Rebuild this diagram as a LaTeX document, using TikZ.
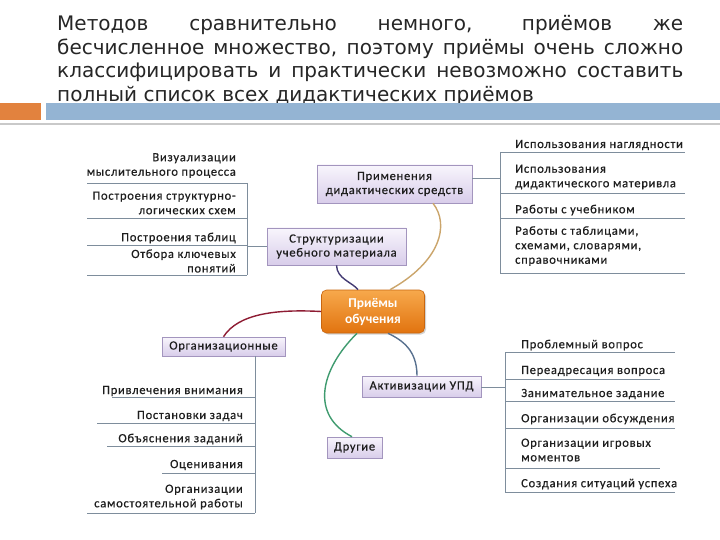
\documentclass[tikz,border=0pt]{standalone}
\usepackage{fontspec}
\setmainfont{DejaVu Sans}
\newfontfamily\cf{Carlito}[LetterSpace=6,FakeBold=0.5]
\newfontfamily\cfc{Carlito}
\usetikzlibrary{shadows}
\tolerance=10000\relax
\hbadness=10000\relax
\definecolor{hdrtext}{HTML}{262626}
\definecolor{barorange}{HTML}{E2823E}
\definecolor{barblue}{HTML}{94B4D3}
\definecolor{bargray}{HTML}{C9C9C9}
\definecolor{txt}{HTML}{1E1E1E}
\definecolor{lline}{HTML}{7E8D9C}
\definecolor{boxtop}{HTML}{F8F5FC}
\definecolor{boxbot}{HTML}{D8CDEA}
\definecolor{boxborder}{HTML}{A395BE}
\definecolor{ctop}{HTML}{F7A94C}
\definecolor{cbot}{HTML}{E1730F}
\definecolor{cborder}{HTML}{C9660F}
\definecolor{cnavy}{HTML}{433B73}
\definecolor{ctan}{HTML}{CBA56B}
\definecolor{cred}{HTML}{8E1C33}
\definecolor{csteel}{HTML}{58718F}
\definecolor{cgreen}{HTML}{3F9B6F}
\tikzset{
  itemtxt/.style={font=\cf\fontsize{12.5}{14.5}\selectfont, text=txt, inner sep=0},
  litem/.style={itemtxt, anchor=east, align=right},
  ritem/.style={itemtxt, anchor=west, align=left},
  listline/.style={draw=lline, line width=0.8pt},
  lbox/.style={draw=boxborder, line width=0.6pt, top color=boxtop, bottom color=boxbot,
    font=\cf\fontsize{12.5}{14}\selectfont, text=txt, align=center, inner sep=0,
    drop shadow={shadow xshift=1.2pt, shadow yshift=-1.2pt, opacity=0.3, fill=gray}},
  cbox/.style={draw=cborder, line width=0.6pt, rounded corners=5pt, top color=ctop, bottom color=cbot,
    font=\cfc\bfseries\fontsize{13.5}{16}\selectfont, text=white, align=center, inner sep=0,
    drop shadow={shadow xshift=1.5pt, shadow yshift=-1.5pt, opacity=0.35, fill=gray}},
  curve/.style={line width=1.4pt}
}
\begin{document}
\begin{tikzpicture}[x=1pt,y=-1pt]
\useasboundingbox (0,0) rectangle (720,540);
\fill[white] (0,0) rectangle (720,540);

% header text
\node[anchor=north west, inner sep=0, text width=626pt, align=justify, text=hdrtext,
  font=\fontsize{20}{23.7}\selectfont] (hdr) at (57,15)
  {Методов сравнительно немного, приёмов же\linebreak бесчисленное множество, поэтому приёмы очень сложно\linebreak классифицировать и практически невозможно составить\linebreak полный список всех дидактических приёмов};

% bars
\fill[barorange] (0,103) rectangle (41,120);
\fill[barblue] (46,103) rectangle (720,120);
\draw[bargray, line width=1.5pt] (0,124) -- (720,124);

% boxes
\node[cbox, minimum width=103pt, minimum height=43pt] (pri) at (373,311.5) {Приёмы\\обучения};
\node[lbox, minimum width=155pt, minimum height=38pt] (prim) at (394.5,184) {Применения\\дидактических средств};
\node[lbox, minimum width=139pt, minimum height=37pt] (strukt) at (336.5,246.5) {Структуризации\\учебного материала};
\node[lbox, minimum width=123pt, minimum height=19pt] (org) at (223.5,346.5) {Организационные};
\node[lbox, minimum width=119pt, minimum height=21pt] (akt) at (421.5,386.5) {Активизации УПД};
\node[lbox, minimum width=55pt, minimum height=21pt] (drug) at (354.5,447.5) {Другие};

% curves
\draw[curve, cnavy] (strukt.south) .. controls (337,279) and (352,282) .. ([xshift=-15pt]pri.north);
\draw[curve, ctan] ([xshift=38.5pt]prim.south) .. controls (450,225) and (440,262) .. ([xshift=17pt]pri.north);
\draw[curve, cred] (pri.west) .. controls (275,309) and (238,314) .. (org.north);
\draw[curve, csteel] ([xshift=15pt]pri.south) .. controls (402,340) and (417,350) .. ([xshift=-4.5pt]akt.north);
\draw[curve, cgreen] ([xshift=-16pt]pri.south) .. controls (320,370) and (310,415) .. ([xshift=-2.5pt]drug.north);

% left-top list (structurization)
\coordinate (ltv) at (247,248);
\draw[listline] (strukt.west) -- (strukt.west -| ltv);
\draw[listline] (247,183) -- (247,275);
\draw[listline] (87,183) -- (247,183);
\draw[listline] (87,218) -- (247,218);
\draw[listline] (87,245) -- (247,245);
\draw[listline] (87,275) -- (247,275);
\node[litem] (lt1) at (236,165.5) {Визуализации\\мыслительного процесса};
\node[litem] (lt2) at (236,203) {Построения структурно-\\логических схем};
\node[litem] (lt3) at (236,238) {Построения таблиц};
\node[litem] (lt4) at (236,261) {Отбора ключевых\\понятий};

% right-top list (didactic means)
\coordinate (rtv) at (500,178);
\draw[listline] (prim.east |- rtv) -- (rtv);
\draw[listline] (500,152) -- (500,273);
\draw[listline] (500,152) -- (685,152);
\draw[listline] (500,193) -- (685,193);
\draw[listline] (500,218) -- (685,218);
\draw[listline] (500,273) -- (685,273);
\node[ritem] (rt1) at (515,145) {Использования наглядности};
\node[ritem] (rt2) at (515,177) {Использования\\дидактического материвла};
\node[ritem] (rt3) at (515,210) {Работы с учебником};
\node[ritem] (rt4) at (515,246) {Работы с таблицами,\\схемами, словарями,\\справочниками};

% left-bottom list (organisational)
\coordinate (lbv) at (255,513);
\draw[listline] (org.south -| lbv) -- (lbv);
\draw[listline] (112,397) -- (255,397);
\draw[listline] (97,423) -- (255,423);
\draw[listline] (107,446) -- (255,446);
\draw[listline] (162,473) -- (255,473);
\draw[listline] (87,513) -- (255,513);
\node[litem] (lb1) at (243,391) {Привлечения внимания};
\node[litem] (lb2) at (243,416) {Постановки задач};
\node[litem] (lb3) at (243,439) {Объяснения заданий};
\node[litem] (lb4) at (243,465) {Оценивания};
\node[litem] (lb5) at (243,497) {Организации\\самостоятельной работы};

% right-bottom list (activation)
\coordinate (rbv) at (505,387);
\draw[listline] (akt.east |- rbv) -- (rbv);
\draw[listline] (505,352) -- (505,492);
\draw[listline] (505,352) -- (675,352);
\draw[listline] (505,379) -- (660,379);
\draw[listline] (505,401) -- (675,401);
\draw[listline] (505,428) -- (675,428);
\draw[listline] (505,468) -- (660,468);
\draw[listline] (505,492) -- (675,492);
\node[ritem] (rb1) at (521,345) {Проблемный вопрос};
\node[ritem] (rb2) at (521,371) {Переадресация вопроса};
\node[ritem] (rb3) at (521,394) {Занимательное задание};
\node[ritem] (rb4) at (521,419) {Организации обсуждения};
\node[ritem] (rb5) at (521,450) {Организации игровых\\моментов};
\node[ritem] (rb6) at (521,484) {Создания ситуаций успеха};
\end{tikzpicture}
\end{document}
